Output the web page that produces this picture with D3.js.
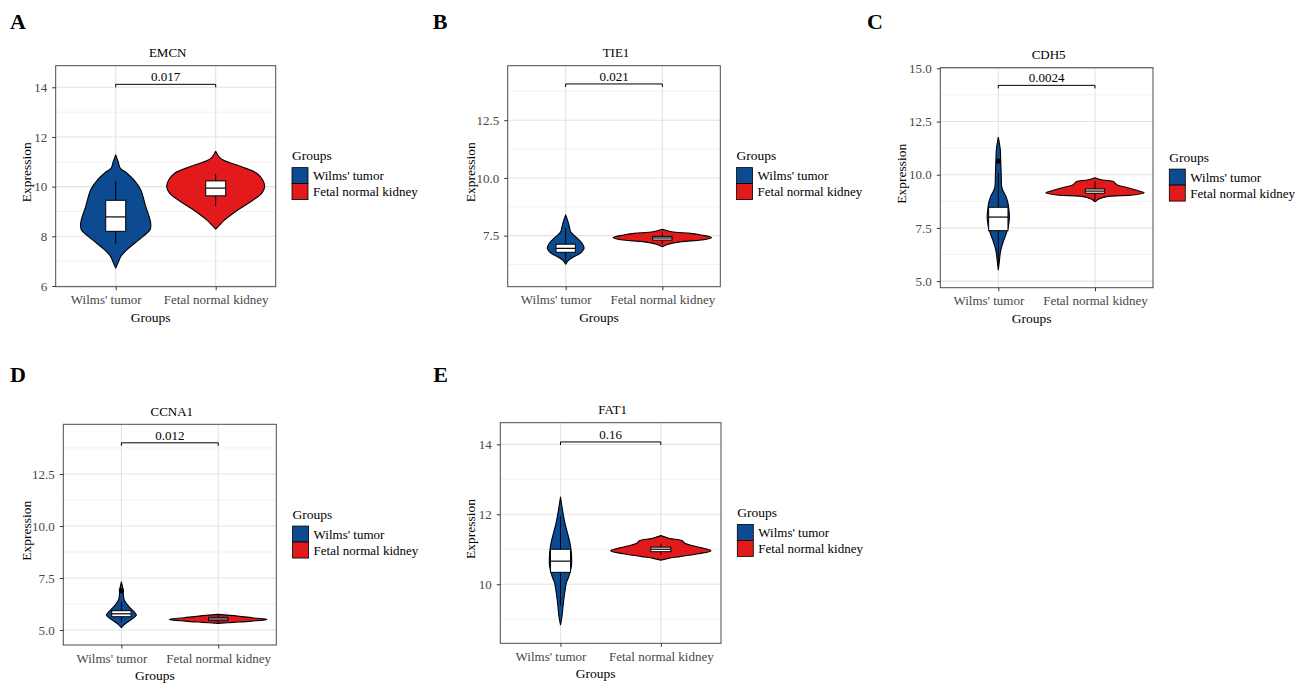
<!DOCTYPE html>
<html lang="en">

<head>
    <title>Violin plots Wilms vs fetal kidney</title>
    <meta charset="UTF-8">
    <script src="https://d3js.org/d3.v7.min.js"></script>
    <style>
        body {
            margin: 0;
            background: #fff;
        }

        svg text {
            font-family: "Liberation Serif", "Times New Roman", serif;
        }
    </style>
</head>

<body>
    <svg width="1306" height="683"></svg>

    <script>
        // ---- data ----
        const genes = ["EMCN", "TIE1", "CDH5", "CCNA1", "FAT1"];
        const letters = ["A", "B", "C", "D", "E"];
        const groups = ["Wilms' tumor", "Fetal normal kidney"];
        const colors = ["#0c4a91", "#e21a1c"];
        const pValues = ["0.017", "0.021", "0.0024", "0.012", "0.16"];
        const bracketAt = [14.12, 14.07, 14.2, 14.0, 14.07];

        const yDomains = [[5.97, 14.87], [5.29, 14.86], [4.69, 15.03], [4.28, 14.89], [8.31, 14.62]];
        const yTicks = [[6, 8, 10, 12, 14], [7.5, 10, 12.5], [5, 7.5, 10, 12.5, 15], [5, 7.5, 10, 12.5], [10, 12, 14]];
        const yTickFormat = ["d", ".1f", ".1f", ".1f", "d"];
        const yMinor = [[7, 9, 11, 13], [6.25, 8.75, 11.25, 13.75], [6.25, 8.75, 11.25, 13.75],
            [6.25, 8.75, 11.25, 13.75], [9, 11, 13]];

        // violin outlines: [expression, half width as share of category step]
        const violinWilms = [
            [[11.28, 0], [11.0, 0.025], [10.75, 0.045], [10.55, 0.11], [10.28, 0.18], [9.87, 0.25], [9.5, 0.28], [9.2, 0.3],
            [8.85, 0.33], [8.53, 0.35], [8.27, 0.345], [8.0, 0.275], [7.72, 0.19], [7.45, 0.11], [7.18, 0.05], [6.95, 0.025], [6.72, 0]],
            [[8.4, 0], [8.1, 0.025], [7.85, 0.04], [7.67, 0.052], [7.5, 0.09], [7.39, 0.12], [7.17, 0.17], [6.95, 0.19],
            [6.74, 0.15], [6.59, 0.085], [6.45, 0.035], [6.27, 0]],
            [[11.76, 0], [11.2, 0.02], [10.64, 0.025], [10.0, 0.03], [9.44, 0.035], [9.28, 0.045], [8.97, 0.08], [8.66, 0.1],
            [8.34, 0.11], [8.0, 0.115], [7.6, 0.105], [7.25, 0.083], [6.9, 0.055], [6.62, 0.035], [6.3, 0.02], [5.9, 0.01], [5.52, 0]],
            [[7.32, 0], [7.0, 0.015], [6.7, 0.02], [6.44, 0.03], [6.2, 0.065], [6.04, 0.095], [5.88, 0.13], [5.72, 0.155],
            [5.56, 0.12], [5.4, 0.07], [5.24, 0.025], [5.11, 0]],
            [[12.49, 0], [12.12, 0.02], [11.74, 0.045], [11.46, 0.07], [11.17, 0.095], [10.9, 0.108], [10.55, 0.11], [10.22, 0.083],
            [10.03, 0.058], [9.84, 0.047], [9.65, 0.037], [9.36, 0.025], [9.07, 0.015], [8.84, 0]]
        ];
        const violinFetal = [
            [[11.42, 0], [11.2, 0.033], [11.07, 0.075], [10.8, 0.26], [10.54, 0.41], [10.27, 0.47], [10.0, 0.49], [9.73, 0.46],
            [9.46, 0.375], [9.2, 0.275], [8.93, 0.175], [8.66, 0.09], [8.46, 0.04], [8.29, 0]],
            [[7.78, 0], [7.67, 0.095], [7.6, 0.29], [7.53, 0.4], [7.41, 0.51], [7.31, 0.4], [7.24, 0.2], [7.13, 0.06], [7.02, 0]],
            [[9.86, 0], [9.75, 0.078], [9.68, 0.19], [9.52, 0.23], [9.41, 0.32], [9.28, 0.42], [9.15, 0.51], [9.05, 0.39],
            [8.97, 0.12], [8.86, 0.04], [8.73, 0]],
            [[5.75, 0], [5.67, 0.2], [5.59, 0.35], [5.51, 0.505], [5.43, 0.34], [5.37, 0.16], [5.32, 0]],
            [[11.39, 0], [11.31, 0.09], [11.25, 0.21], [11.17, 0.24], [11.07, 0.36], [10.96, 0.5], [10.87, 0.37], [10.79, 0.19],
            [10.74, 0.075], [10.69, 0]]
        ];

        // box stats: [lower whisker, q1, median, q3, upper whisker]
        const boxWilms = [[7.68, 8.2, 8.78, 9.45, 10.23], [6.37, 6.78, 6.95, 7.13, 7.83], [5.75, 7.37, 8.01, 8.47, 10.1],
        [5.4, 5.64, 5.78, 5.93, 6.36], [9.4, 10.34, 10.66, 11.0, 11.95]];
        const boxFetal = [[9.22, 9.63, 9.94, 10.23, 10.51], [7.13, 7.31, 7.40, 7.47, 7.67], [8.81, 9.13, 9.23, 9.33, 9.69],
        [5.37, 5.45, 5.53, 5.61, 5.72], [10.84, 10.93, 11.0, 11.06, 11.16]];
        const outliersWilms = [[], [], [10.64], [6.89], []];

        // ---- page layout (pixels) ----
        const layout = [
            { left: 55.7, right: 275.7, top: 65.7, bottom: 286.7, lx: 10, ly: 29.3, ytx: 31 },
            { left: 507.7, right: 720.3, top: 65.7, bottom: 286.7, lx: 432.7, ly: 29, ytx: 474.5 },
            { left: 940.3, right: 1153, top: 67.7, bottom: 287.7, lx: 867, ly: 29.3, ytx: 906 },
            { left: 63.3, right: 276.3, top: 424.3, bottom: 645, lx: 10, ly: 381.7, ytx: 30.5 },
            { left: 500.3, right: 721, top: 422.7, bottom: 643.3, lx: 433.3, ly: 382.3, ytx: 474.5 }
        ];

        const svg = d3.select("svg");
        const FS = 13;

        genes.forEach(function (gene, i) {
            const L = layout[i];
            const g = svg.append("g");
            const cxMid = (L.left + L.right) / 2;
            const cyMid = (L.top + L.bottom) / 2;

            let x = d3.scalePoint().domain(groups).range([L.left, L.right]).padding(0.6);
            let y = d3.scaleLinear().domain(yDomains[i]).range([L.bottom, L.top]);
            const step = x.step();

            // grid
            g.append("g").selectAll("line").data(yMinor[i]).join("line")
                .attr("x1", L.left).attr("x2", L.right)
                .attr("y1", d => y(d)).attr("y2", d => y(d))
                .attr("stroke", "#ececec").attr("stroke-width", 0.7);
            g.append("g").selectAll("line").data(yTicks[i]).join("line")
                .attr("x1", L.left).attr("x2", L.right)
                .attr("y1", d => y(d)).attr("y2", d => y(d))
                .attr("stroke", "#e3e3e3").attr("stroke-width", 1.1);
            g.append("g").selectAll("line").data(groups).join("line")
                .attr("x1", d => x(d)).attr("x2", d => x(d))
                .attr("y1", L.top).attr("y2", L.bottom)
                .attr("stroke", "#e3e3e3").attr("stroke-width", 1.1);

            // violins
            const violins = [violinWilms[i], violinFetal[i]];
            violins.forEach(function (prof, k) {
                const cx = x(groups[k]);
                const area = d3.area()
                    .curve(d3.curveCatmullRom)
                    .y(d => y(d[0]))
                    .x0(d => cx - d[1] * step)
                    .x1(d => cx + d[1] * step);
                g.append("path")
                    .attr("d", area(prof))
                    .attr("fill", colors[k])
                    .attr("stroke", "#000")
                    .attr("stroke-width", 1.1)
                    .attr("stroke-linejoin", "round");
            });

            // boxplots
            const boxes = [boxWilms[i], boxFetal[i]];
            const bw = 0.1 * step;
            boxes.forEach(function (b, k) {
                const cx = x(groups[k]);
                g.append("line")
                    .attr("x1", cx).attr("x2", cx)
                    .attr("y1", y(b[0])).attr("y2", y(b[4]))
                    .attr("stroke", "#000").attr("stroke-width", 1);
                g.append("rect")
                    .attr("x", cx - bw).attr("width", 2 * bw)
                    .attr("y", y(b[3])).attr("height", y(b[1]) - y(b[3]))
                    .attr("fill", "#fff").attr("stroke", "#000").attr("stroke-width", 1);
                g.append("line")
                    .attr("x1", cx - bw).attr("x2", cx + bw)
                    .attr("y1", y(b[2])).attr("y2", y(b[2]))
                    .attr("stroke", "#000").attr("stroke-width", 1.2);
            });
            g.append("g").selectAll("circle").data(outliersWilms[i]).join("circle")
                .attr("cx", x(groups[0])).attr("cy", d => y(d))
                .attr("r", 2.6).attr("fill", "#000");

            // panel border
            g.append("rect")
                .attr("x", L.left).attr("y", L.top)
                .attr("width", L.right - L.left).attr("height", L.bottom - L.top)
                .attr("fill", "none").attr("stroke", "#4a4a4a").attr("stroke-width", 1);

            // significance bracket
            const by = y(bracketAt[i]);
            const x1 = x(groups[0]), x2 = x(groups[1]);
            g.append("path")
                .attr("d", `M${x1},${by + 3}V${by}H${x2}V${by + 3}`)
                .attr("fill", "none").attr("stroke", "#000").attr("stroke-width", 1);
            g.append("text")
                .attr("x", (x1 + x2) / 2).attr("y", by - 3)
                .attr("text-anchor", "middle").attr("font-size", FS)
                .text(pValues[i]);

            // axes
            const yAxis = g.append("g")
                .attr("transform", `translate(${L.left},0)`)
                .call(d3.axisLeft(y).tickValues(yTicks[i]).tickSize(3.5).tickPadding(5)
                    .tickFormat(d3.format(yTickFormat[i])));
            const xAxis = g.append("g")
                .attr("transform", `translate(0,${L.bottom})`)
                .call(d3.axisBottom(x).tickSize(3.5).tickPadding(5));
            [yAxis, xAxis].forEach(function (ax) {
                ax.select(".domain").remove();
                ax.selectAll(".tick line").attr("stroke", "#333");
                ax.selectAll(".tick text").attr("fill", "#474747").attr("font-size", FS)
                    .attr("font-family", "Liberation Serif, serif");
            });
            xAxis.selectAll(".tick text").attr("dx", (d, j) => j === 0 ? -10 : 0);

            // titles
            g.append("text")
                .attr("x", cxMid + 2).attr("y", L.top - 8.5)
                .attr("text-anchor", "middle").attr("font-size", FS)
                .text(gene);
            g.append("text")
                .attr("x", cxMid - 15).attr("y", L.bottom + 35)
                .attr("text-anchor", "middle").attr("font-size", FS + 0.5)
                .text("Groups");
            g.append("text")
                .attr("transform", `translate(${L.ytx},${cyMid - 4}) rotate(-90)`)
                .attr("text-anchor", "middle").attr("font-size", FS + 0.5)
                .text("Expression");
            g.append("text")
                .attr("x", L.lx).attr("y", L.ly)
                .attr("font-size", 22).attr("font-weight", "bold")
                .text(letters[i]);

            // legend
            const lgX = L.right + 16.3;
            const lgY = cyMid - 8.6;
            g.append("text")
                .attr("x", lgX).attr("y", lgY - 7.5)
                .attr("font-size", FS + 0.5)
                .text("Groups");
            groups.forEach(function (name, k) {
                g.append("rect")
                    .attr("x", lgX).attr("y", lgY + k * 16)
                    .attr("width", 16).attr("height", 16)
                    .attr("fill", colors[k]).attr("stroke", "#000").attr("stroke-width", 0.8);
                g.append("text")
                    .attr("x", lgX + 21).attr("y", lgY + k * 16 + 12.5)
                    .attr("font-size", FS)
                    .text(name);
            });
        });
    </script>
</body>

</html>
